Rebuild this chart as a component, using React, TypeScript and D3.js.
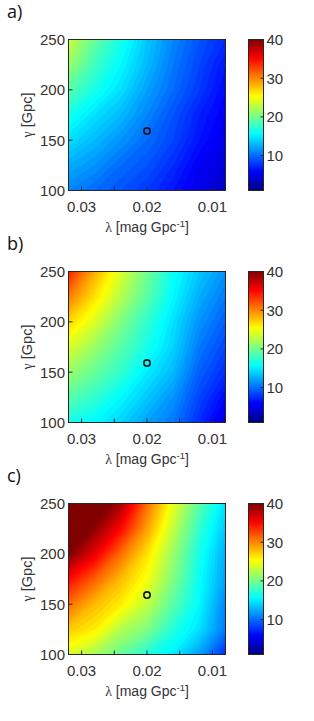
import React from "react"
import * as d3 from "d3"

// sample grid (columns: lambda, rows: gamma from top to bottom)
const lambdaSamples = [0.032, 0.028, 0.024, 0.02, 0.016, 0.012, 0.008]
const gammaSamples = [250, 225, 200, 175, 150, 125, 100]

const panelA = [
  [23.5, 19.5, 16.5, 13.5, 11, 9, 7.5],
  [21.5, 18, 15.5, 13, 10.5, 8.5, 6.5],
  [19, 16.5, 14.5, 12, 10, 8, 6],
  [16.5, 14.5, 13, 11, 9, 7, 5.5],
  [14.5, 13, 11.5, 10, 8.5, 6.5, 5],
  [12.5, 11.5, 10, 9, 7.5, 5.5, 4.5],
  [11, 10, 9, 8, 6.5, 5, 3.5],
]

const panelB = [
  [34, 28.5, 24, 20, 16, 13.5, 11.5],
  [30.5, 26.5, 22.5, 19, 15.5, 12.5, 10.5],
  [27, 24, 20.5, 17.5, 14.5, 11.5, 9.5],
  [24, 21.5, 19, 16.5, 14, 10.5, 8.5],
  [21.5, 19.5, 17.5, 15, 13, 9.5, 7.5],
  [19, 17.5, 15.5, 13.5, 11.5, 8.5, 6],
  [16.5, 15.5, 14, 12, 10.5, 7.5, 4.5],
]

const panelC = [
  [44, 42, 38.5, 31, 24.5, 19, 14.5],
  [42.5, 39.5, 35, 29, 23, 17.5, 13.5],
  [40, 36, 31, 26.5, 21.5, 16.5, 12.5],
  [35, 31.5, 28, 25, 20.5, 16, 12],
  [31, 28, 26, 23, 19, 15.5, 11],
  [27.5, 26, 22.5, 20.5, 17, 14.5, 10.5],
  [24, 22, 19.5, 17, 15, 12, 7.5],
]

const panelLabels = ["a)", "b)", "c)"]
const panelValues = [panelA, panelB, panelC]

const xTicks = [0.03, 0.025, 0.02, 0.015, 0.01]
const xTickLabels = [0.03, 0.02, 0.01]
const yTicks = [100, 150, 200, 250]
const cbarTicks = [10, 20, 30, 40]
const colorDomain = [1, 40]
const marker = { lambda: 0.02, gamma: 159 }

const font = "'Liberation Sans', Arial, sans-serif"
const greek = "'Liberation Serif', 'DejaVu Serif', serif"
const textColor = "#333"
const frameColor = "#262626"

// MATLAB jet
const jet = (v: number) => {
  const t = Math.max(0, Math.min(1, (v - colorDomain[0]) / (colorDomain[1] - colorDomain[0])))
  const c = (x: number) => Math.round(255 * Math.max(0, Math.min(1, 1.5 - Math.abs(x))))
  return `rgb(${c(4 * t - 3)},${c(4 * t - 2)},${c(4 * t - 1)})`
}

const left = 68.5
const right = 225.5
const plotH = 151
const panelTops = [39.5, 271.5, 503.5]
const cbarX = 248.5
const cbarW = 15

const thresholds = d3.range(0, 46, 0.5)

function Panel({ top, label, values, idx }) {
  const bottom = top + plotH
  const x = d3.scaleLinear().domain([0.032, 0.008]).range([left, right])
  const y = d3.scaleLinear().domain([100, 250]).range([bottom, top])
  const n = lambdaSamples.length
  const m = gammaSamples.length
  const gx = d3.scaleLinear().domain([0.5, n - 0.5]).range([x(lambdaSamples[0]), x(lambdaSamples[n - 1])])
  const gy = d3.scaleLinear().domain([0.5, m - 0.5]).range([y(gammaSamples[0]), y(gammaSamples[m - 1])])
  const contours = d3.contours().size([n, m]).thresholds(thresholds)(values.flat())
  const path = d3.geoPath(
    d3.geoTransform({
      point(px, py) {
        this.stream.point(gx(px), gy(py))
      },
    })
  )
  const cb = d3.scaleLinear().domain(colorDomain).range([bottom, top])
  const clipId = `clip-${idx}`
  const gradId = `grad-${idx}`
  const midX = (left + right) / 2
  const midY = (top + bottom) / 2

  return (
    <g>
      <text x={7} y={top - 21.5} fontFamily="'Open Sans', 'Noto Sans', sans-serif" fontSize={18} fill="#111">
        {label}
      </text>
      <defs>
        <clipPath id={clipId}>
          <rect x={left} y={top} width={right - left} height={plotH} />
        </clipPath>
        <linearGradient id={gradId} x1="0" y1="1" x2="0" y2="0">
          {d3.range(colorDomain[0], colorDomain[1] + 0.01, 0.5).map((v) => (
            <stop key={v} offset={(v - colorDomain[0]) / (colorDomain[1] - colorDomain[0])} stopColor={jet(v)} />
          ))}
        </linearGradient>
      </defs>
      <g clipPath={`url(#${clipId})`}>
        {contours.map((c) => (
          <path key={c.value} d={path(c) || ""} fill={jet(c.value + 0.25)} />
        ))}
      </g>
      <rect x={left} y={top} width={right - left} height={plotH} fill="none" stroke={frameColor} strokeWidth={1} />
      {xTicks.map((t) => (
        <line key={t} x1={x(t)} x2={x(t)} y1={bottom} y2={bottom - 4} stroke={frameColor} strokeWidth={1} />
      ))}
      {yTicks.map((t) => (
        <line key={t} x1={left} x2={left + 4} y1={y(t)} y2={y(t)} stroke={frameColor} strokeWidth={1} />
      ))}
      {xTickLabels.map((t) => (
        <text key={t} x={x(t)} y={bottom + 21} textAnchor="middle" fontFamily={font} fontSize={15} fill={textColor}>
          {t}
        </text>
      ))}
      {yTicks.map((t) => (
        <text key={t} x={left - 3.5} y={y(t)} dy="0.36em" textAnchor="end" fontFamily={font} fontSize={15} fill={textColor}>
          {t}
        </text>
      ))}
      <text x={midX} y={bottom + 41} textAnchor="middle" fontFamily={font} fontSize={14} fill={textColor}>
        <tspan fontFamily={greek} fontSize={14}>λ</tspan> [mag Gpc
        <tspan dy={-5} fontSize={9.5}>
          -1
        </tspan>
        <tspan dy={5}>]</tspan>
      </text>
      <text
        transform={`translate(32,${midY}) rotate(-90)`}
        textAnchor="middle"
        fontFamily={font}
        fontSize={14.5}
        fill={textColor}
      >
        <tspan fontFamily={greek} fontSize={14}>γ</tspan> [Gpc]
      </text>
      <circle
        cx={x(marker.lambda)}
        cy={y(marker.gamma)}
        r={3.2}
        fill="none"
        stroke="#111"
        strokeWidth={1.6}
      />
      <rect x={cbarX} y={top} width={cbarW} height={plotH} fill={`url(#${gradId})`} stroke={frameColor} strokeWidth={1} />
      {cbarTicks.map((t) => (
        <g key={t}>
          <line x1={cbarX + cbarW} x2={cbarX + cbarW - 3} y1={cb(t)} y2={cb(t)} stroke={frameColor} strokeWidth={1} />
          <text x={cbarX + cbarW + 3} y={cb(t)} dy="0.36em" fontFamily={font} fontSize={15} fill={textColor}>
            {t}
          </text>
        </g>
      ))}
    </g>
  )
}

export default function App() {
  return (
    <svg width={314} height={721} style={{ position: "absolute", left: 0, top: 0, background: "#fff" }}>
      <rect width={314} height={721} fill="#fff" />
      {panelValues.map((vals, i) => (
        <Panel key={i} idx={i} top={panelTops[i]} label={panelLabels[i]} values={vals} />
      ))}
    </svg>
  )
}
